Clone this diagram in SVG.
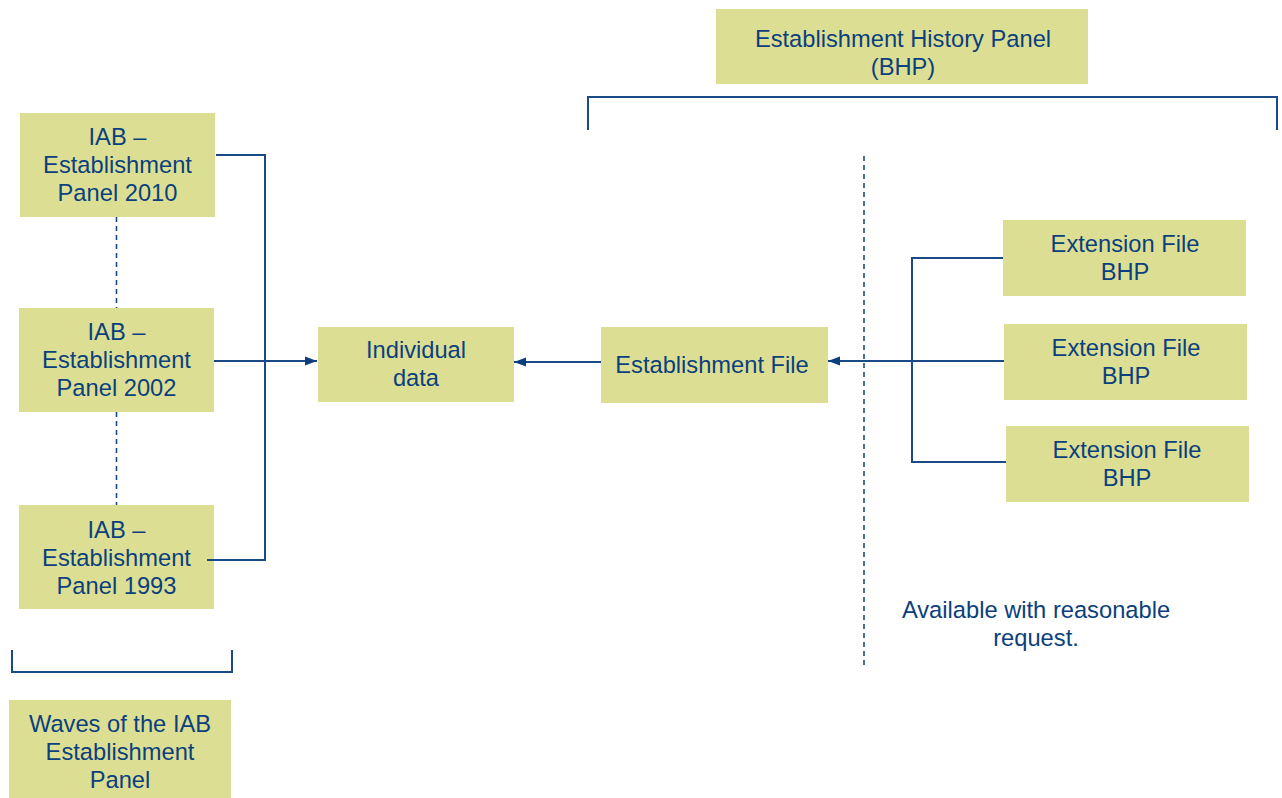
<svg xmlns="http://www.w3.org/2000/svg" width="1282" height="798" viewBox="0 0 1282 798">
<style>
.box{fill:#DCDF93;}
.t{font-family:"Liberation Sans",Arial,sans-serif;font-size:23.7px;fill:#0C3F7D;text-anchor:middle;}
.ln{fill:none;stroke:#1A4A86;stroke-width:2;}
.dash{fill:none;stroke:#1A4A86;stroke-width:1.6;stroke-dasharray:5 4;}
</style>
<defs>
<marker id="arr" viewBox="0 0 12 10" refX="12" refY="5" markerWidth="12" markerHeight="10" markerUnits="userSpaceOnUse" orient="auto">
<path d="M0,0.5 L12,5 L0,9.5 Z" fill="#0C3F7D"/>
</marker>
</defs>
<rect width="1282" height="798" fill="#FFFFFF"/>
<g id="bhp">
<rect class="box" x="716" y="9" width="372" height="75"/>
<text class="t" x="903" y="47">Establishment History Panel</text>
<text class="t" x="903" y="75">(BHP)</text>
</g>
<g id="iab2010">
<rect class="box" x="20" y="113" width="195" height="104"/>
<text class="t" x="117.5" y="145">IAB –</text>
<text class="t" x="117.5" y="173">Establishment</text>
<text class="t" x="117.5" y="201">Panel 2010</text>
</g>
<g id="iab2002">
<rect class="box" x="19" y="308" width="195" height="104"/>
<text class="t" x="116.5" y="340">IAB –</text>
<text class="t" x="116.5" y="368">Establishment</text>
<text class="t" x="116.5" y="396">Panel 2002</text>
</g>
<g id="iab1993">
<rect class="box" x="19" y="505" width="195" height="104"/>
<text class="t" x="116.5" y="537.5">IAB –</text>
<text class="t" x="116.5" y="565.5">Establishment</text>
<text class="t" x="116.5" y="593.5">Panel 1993</text>
</g>
<g id="waves">
<rect class="box" x="9" y="700" width="222" height="98"/>
<text class="t" x="120" y="732">Waves of the IAB</text>
<text class="t" x="120" y="760">Establishment</text>
<text class="t" x="120" y="788">Panel</text>
</g>
<g id="individual">
<rect class="box" x="318" y="327" width="196" height="75"/>
<text class="t" x="416" y="358">Individual</text>
<text class="t" x="416" y="386">data</text>
</g>
<g id="estfile">
<rect class="box" x="601" y="327" width="227" height="76"/>
<text class="t" x="712" y="373">Establishment File</text>
</g>
<g id="ext1">
<rect class="box" x="1003" y="220" width="243" height="76"/>
<text class="t" x="1125" y="252">Extension File</text>
<text class="t" x="1125" y="280">BHP</text>
</g>
<g id="ext2">
<rect class="box" x="1004" y="324" width="243" height="76"/>
<text class="t" x="1126" y="356">Extension File</text>
<text class="t" x="1126" y="384">BHP</text>
</g>
<g id="ext3">
<rect class="box" x="1006" y="426" width="243" height="76"/>
<text class="t" x="1127" y="458">Extension File</text>
<text class="t" x="1127" y="486">BHP</text>
</g>
<g id="note">
<text class="t" x="1036" y="618">Available with reasonable</text>
<text class="t" x="1036" y="646">request.</text>
</g>
<g id="connectors">
<polyline class="ln" points="216,155 265,155 265,560 207,560"/>
<line class="ln" x1="214" y1="361" x2="317" y2="361" marker-end="url(#arr)"/>
<line class="ln" x1="601" y1="362" x2="514" y2="362" marker-end="url(#arr)"/>
<polyline class="ln" points="1003,258 912,258 912,462 1006,462"/>
<line class="ln" x1="1004" y1="361" x2="828" y2="361" marker-end="url(#arr)"/>
<line class="dash" x1="116.5" y1="217" x2="116.5" y2="308"/>
<line class="dash" x1="116.5" y1="412" x2="116.5" y2="505"/>
<line class="dash" x1="864" y1="156" x2="864" y2="666"/>
<polyline class="ln" points="588,130 588,97 1277,97 1277,130"/>
<polyline class="ln" points="12,650 12,672 232,672 232,650"/>
</g>
</svg>
